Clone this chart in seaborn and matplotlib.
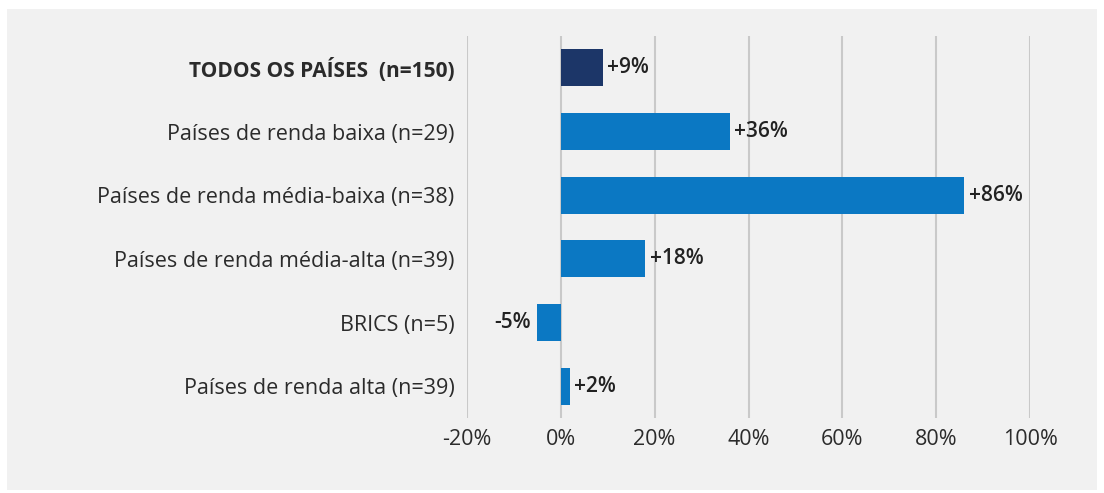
import matplotlib
matplotlib.use("Agg")
import matplotlib.pyplot as plt
from matplotlib.patches import Rectangle
import seaborn as sns

# dados do gráfico
categorias = [
    "TODOS OS PAÍSES  (n=150)",
    "Países de renda baixa (n=29)",
    "Países de renda média-baixa (n=38)",
    "Países de renda média-alta (n=39)",
    "BRICS (n=5)",
    "Países de renda alta (n=39)",
]
variacao = [9, 36, 86, 18, -5, 2]
rotulos = ["+9%", "+36%", "+86%", "+18%", "-5%", "+2%"]
cores = ["#1c3668", "#0b78c3", "#0b78c3", "#0b78c3", "#0b78c3", "#0b78c3"]
ticks_x = [-20, 0, 20, 40, 60, 80, 100]
ticks_x_txt = ["-20%", "0%", "20%", "40%", "60%", "80%", "100%"]

sns.set_theme(style="white")
plt.rcParams["font.family"] = ["Open Sans", "DejaVu Sans"]

fig = plt.figure(figsize=(11.04, 4.93), dpi=100, facecolor="white")
# painel cinza de fundo
fig.patches.append(Rectangle((7 / 1104, 3 / 493), 1090 / 1104, 481 / 493,
                             transform=fig.transFigure, facecolor="#f1f1f1",
                             edgecolor="none", zorder=0))

ax = fig.add_axes([467 / 1104, 1 - 418 / 493, (1030 - 467) / 1104, (418 - 36) / 493])
ax.set_facecolor("none")
ax.set_zorder(2)

sns.barplot(x=variacao, y=categorias, hue=categorias, palette=cores,
            legend=False, orient="h", width=0.58, ax=ax, zorder=3,
            saturation=1, linewidth=0)

ax.set_xlim(-20, 100)
ax.set_ylim(5.5, -0.5)
ax.set_xticks(ticks_x)
ax.set_xticklabels(ticks_x_txt)
for x in ticks_x:
    ax.axvline(x, color="#c9c9c9", lw=1.5, zorder=1)

for s in ax.spines.values():
    s.set_visible(False)
ax.tick_params(axis="both", length=0, labelsize=15.5, colors="#2b2b2b")
ax.tick_params(axis="x", pad=8)
ax.tick_params(axis="y", pad=9)
ax.set_xlabel("")
ax.set_ylabel("")
ax.get_yticklabels()[0].set_fontweight("bold")
ax.get_yticklabels()[0].set_fontsize(15)

for i, (v, t) in enumerate(zip(variacao, rotulos)):
    if v >= 0:
        ax.text(v + 0.9, i, t, ha="left", va="center", fontsize=15,
                fontweight="semibold", color="#222222", zorder=4)
    else:
        ax.text(v - 1.3, i, t, ha="right", va="center", fontsize=15,
                fontweight="semibold", color="#222222", zorder=4)

fig.savefig("out.png", dpi=100)
